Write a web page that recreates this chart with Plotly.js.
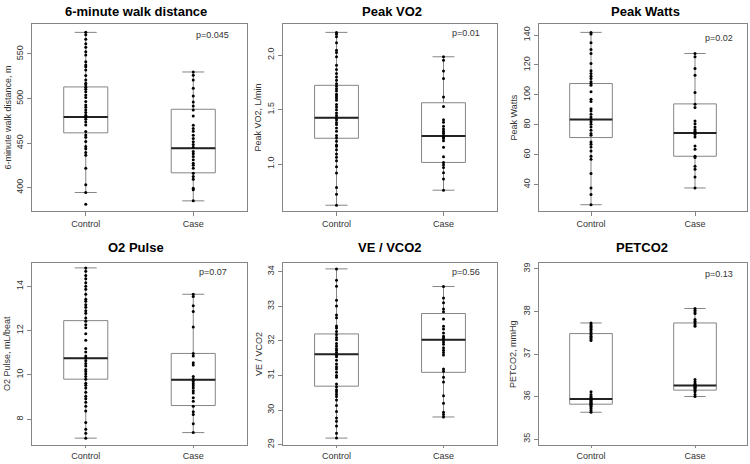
<!DOCTYPE html>
<html><head><meta charset="utf-8">
<script src="https://cdn.plot.ly/plotly-3.0.1.min.js"></script>
<style>html,body{margin:0;padding:0;background:#fff}#chart{width:750px;height:464px}</style>
</head><body><div id="chart"></div>
<script>
// ---------- DATA ----------
const groups = ['Control', 'Case'];
const panelTitles = ['6-minute walk distance', 'Peak VO2', 'Peak Watts', 'O2 Pulse', 'VE / VCO2', 'PETCO2'];
const yTitles = ['6-minute walk distance, m', 'Peak VO2, L/min', 'Peak Watts', 'O2 Pulse, mL/beat', 'VE / VCO2', 'PETCO2, mmHg'];
const pValues = ['p=0.045', 'p=0.01', 'p=0.02', 'p=0.07', 'p=0.56', 'p=0.13'];

// tick labels per panel
const walkTicks = [400, 450, 500, 550];
const vo2Ticks = [1.0, 1.5, 2.0];
const wattsTicks = [40, 60, 80, 100, 120, 140];
const pulseTicks = [8, 10, 12, 14];
const veTicks = [29, 30, 31, 32, 33, 34];
const petTicks = [35, 36, 37, 38, 39];

// box statistics: [lower whisker, Q1, median, Q3, upper whisker]
const walkCtrlBox = [394.4, 461.4, 479.3, 513.0, 574.3];
const walkCaseBox = [385.0, 416.5, 444.2, 487.9, 529.8];
const vo2CtrlBox = [0.622, 1.237, 1.425, 1.723, 2.209];
const vo2CaseBox = [0.760, 1.015, 1.258, 1.563, 1.985];
const wattsCtrlBox = [26.6, 71.5, 83.5, 107.6, 141.8];
const wattsCaseBox = [37.8, 59.0, 74.6, 94.0, 127.7];
const pulseCtrlBox = [7.15, 9.81, 10.75, 12.45, 14.83];
const pulseCaseBox = [7.40, 8.62, 9.78, 10.97, 13.64];
const veCtrlBox = [29.19, 30.69, 31.61, 32.20, 34.08];
const veCaseBox = [29.80, 31.09, 32.03, 32.79, 33.57];
const petCtrlBox = [35.63, 35.82, 35.94, 37.48, 37.73];
const petCaseBox = [36.00, 36.15, 36.26, 37.73, 38.07];

// individual observations
const walkCtrl = [574.3, 571.7, 566.5, 561.6, 557.5, 552.6, 548.9, 541.4, 537.7, 535.8, 532.0, 525.7, 520.8, 517.1, 515.2, 512.6, 510.4, 507.7, 504.0, 501.0, 496.5, 492.8, 490.2, 487.2, 484.2, 481.2, 479.0, 476.7, 473.7, 470.3, 462.9, 459.1, 456.5, 451.6, 446.0, 443.4, 439.3, 436.3, 421.7, 403.0, 394.4, 381.3];
const walkCase = [529.8, 526.1, 520.8, 511.5, 502.9, 496.1, 491.7, 487.2, 480.4, 470.0, 466.2, 463.2, 458.8, 455.0, 451.3, 448.3, 445.3, 440.4, 437.8, 434.8, 431.1, 427.3, 425.1, 421.7, 416.1, 412.3, 409.4, 399.3, 397.4, 385.0];

const vo2Ctrl = [2.209, 2.191, 2.169, 2.114, 2.046, 2.025, 1.985, 1.908, 1.868, 1.831, 1.800, 1.769, 1.738, 1.714, 1.692, 1.671, 1.640, 1.625, 1.606, 1.585, 1.548, 1.523, 1.498, 1.468, 1.446, 1.425, 1.406, 1.382, 1.363, 1.332, 1.302, 1.262, 1.240, 1.209, 1.175, 1.163, 1.132, 1.092, 1.062, 1.031, 0.975, 0.917, 0.785, 0.723, 0.622];
const vo2Case = [1.985, 1.954, 1.855, 1.785, 1.615, 1.529, 1.406, 1.385, 1.348, 1.323, 1.302, 1.283, 1.262, 1.246, 1.234, 1.215, 1.154, 1.068, 1.015, 0.994, 0.969, 0.920, 0.862, 0.760];

const wattsCtrl = [141.8, 140.7, 134.9, 130.4, 127.7, 121.0, 116.1, 114.3, 112.5, 111.0, 108.8, 107.6, 106.5, 102.1, 97.1, 95.6, 90.7, 89.3, 87.1, 85.3, 83.8, 82.0, 80.4, 78.6, 76.4, 74.2, 73.0, 68.6, 67.0, 65.2, 62.5, 59.0, 57.0, 47.4, 37.8, 33.5, 26.6];
const wattsCase = [127.7, 125.5, 117.7, 113.2, 101.6, 93.8, 91.6, 82.6, 80.8, 78.6, 76.8, 75.7, 74.6, 73.5, 71.9, 65.9, 63.7, 59.0, 58.1, 52.3, 50.3, 45.1, 37.8];

const pulseCtrl = [14.83, 14.68, 14.49, 14.34, 14.16, 14.00, 13.87, 13.64, 13.42, 13.32, 13.17, 13.05, 12.90, 12.78, 12.57, 12.42, 12.26, 12.13, 11.86, 11.56, 11.19, 11.04, 10.86, 10.75, 10.64, 10.52, 10.40, 10.25, 10.15, 10.04, 9.93, 9.81, 9.63, 9.53, 9.41, 9.22, 9.04, 8.93, 8.77, 8.59, 8.37, 7.85, 7.55, 7.37, 7.15];
const pulseCase = [13.64, 13.54, 13.12, 12.86, 12.16, 10.97, 10.86, 10.55, 10.45, 9.93, 9.81, 9.71, 9.60, 9.51, 9.41, 9.29, 9.19, 8.97, 8.81, 8.59, 8.34, 8.22, 7.80, 7.40];

const veCtrl = [34.08, 33.75, 33.58, 33.17, 33.01, 32.75, 32.67, 32.43, 32.37, 32.27, 32.18, 32.10, 32.03, 31.92, 31.85, 31.78, 31.73, 31.66, 31.59, 31.54, 31.44, 31.33, 31.25, 31.19, 31.09, 31.00, 30.95, 30.75, 30.67, 30.59, 30.53, 30.46, 30.39, 30.29, 30.13, 29.96, 29.77, 29.68, 29.54, 29.33, 29.19];
const veCase = [33.57, 33.24, 33.10, 32.92, 32.84, 32.63, 32.42, 32.34, 32.23, 32.13, 32.08, 32.04, 31.97, 31.90, 31.80, 31.73, 31.66, 31.59, 31.19, 31.12, 30.95, 30.81, 30.41, 30.20, 29.94, 29.87, 29.80];

const petCtrl = [37.73, 37.69, 37.65, 37.62, 37.58, 37.54, 37.50, 37.46, 37.42, 37.38, 37.35, 37.32, 36.11, 36.05, 36.00, 35.97, 35.95, 35.93, 35.92, 35.90, 35.88, 35.86, 35.84, 35.82, 35.80, 35.78, 35.76, 35.72, 35.67, 35.63];
const petCase = [38.07, 38.03, 37.99, 37.95, 37.81, 37.77, 37.73, 37.69, 37.65, 36.40, 36.35, 36.30, 36.28, 36.26, 36.24, 36.22, 36.20, 36.18, 36.15, 36.11, 36.05, 36.00];

// ---------- PANELS ----------
const panels = [
  {ctrl: walkCtrl, cse: walkCase, cb: walkCtrlBox, kb: walkCaseBox, ticks: walkTicks, range: [373.6, 583.7], fmt: ''},
  {ctrl: vo2Ctrl, cse: vo2Case, cb: vo2CtrlBox, kb: vo2CaseBox, ticks: vo2Ticks, range: [0.569, 2.286], fmt: '.1f'},
  {ctrl: wattsCtrl, cse: wattsCase, cb: wattsCtrlBox, kb: wattsCaseBox, ticks: wattsTicks, range: [22.4, 147.4], fmt: ''},
  {ctrl: pulseCtrl, cse: pulseCase, cb: pulseCtrlBox, kb: pulseCaseBox, ticks: pulseTicks, range: [6.84, 15.05], fmt: ''},
  {ctrl: veCtrl, cse: veCase, cb: veCtrlBox, kb: veCaseBox, ticks: veTicks, range: [28.99, 34.25], fmt: ''},
  {ctrl: petCtrl, cse: petCase, cb: petCtrlBox, kb: petCaseBox, ticks: petTicks, range: [34.86, 39.14], fmt: ''}
];

const W = 750, H = 464;
const colPx = [[32, 247], [283, 497], [539, 747]];
const rowPx = [[24, 211], [263, 445]];
const titlePos = [[136, 12], [392, 12], [645, 12], [136, 248], [390, 248], [642, 248]];
const pPos = [[213, 35], [466, 33], [719, 38], [213, 272], [466, 272], [719, 274]];
const yTitleX = [7, 257, 513, 7, 259, 513];

const GRAY = '#858585';
const TXT = '#333333';
const FONT = 'Arial, "Liberation Sans", sans-serif';

const traces = [];
const layout = {
  width: W, height: H,
  margin: {l: 0, r: 0, t: 0, b: 0},
  paper_bgcolor: '#ffffff', plot_bgcolor: '#ffffff',
  showlegend: false,
  font: {family: FONT, size: 9, color: TXT},
  annotations: []
};

panels.forEach((p, i) => {
  const n = i + 1;
  const xa = n === 1 ? 'x' : 'x' + n;
  const ya = n === 1 ? 'y' : 'y' + n;
  const col = colPx[i % 3], row = rowPx[Math.floor(i / 3)];
  const xs = [1, 2];

  // box outline + whiskers
  traces.push({
    type: 'box', xaxis: xa, yaxis: ya, x: xs,
    lowerfence: [p.cb[0], p.kb[0]], q1: [p.cb[1], p.kb[1]], median: [p.cb[2], p.kb[2]],
    q3: [p.cb[3], p.kb[3]], upperfence: [p.cb[4], p.kb[4]],
    width: 0.41, whiskerwidth: 0.5, boxpoints: false,
    line: {color: GRAY, width: 1}, fillcolor: 'rgba(0,0,0,0)', hoverinfo: 'skip'
  });
  // thick median line (degenerate box)
  const med = [p.cb[2], p.kb[2]];
  traces.push({
    type: 'box', xaxis: xa, yaxis: ya, x: xs,
    lowerfence: med, q1: med, median: med, q3: med, upperfence: med,
    width: 0.41, whiskerwidth: 0, boxpoints: false,
    line: {color: '#222222', width: 2}, fillcolor: 'rgba(0,0,0,0)', hoverinfo: 'skip'
  });
  // individual points
  traces.push({
    type: 'scatter', mode: 'markers', xaxis: xa, yaxis: ya,
    x: p.ctrl.map(() => 1).concat(p.cse.map(() => 2)),
    y: p.ctrl.concat(p.cse),
    marker: {color: '#000000', size: 3}, hoverinfo: 'skip'
  });

  const axName = n === 1 ? '' : String(n);
  layout['xaxis' + axName] = {
    domain: [col[0] / W, col[1] / W], anchor: ya, range: [0.5, 2.5],
    tickvals: xs, ticktext: groups, ticks: 'outside', ticklen: i < 3 ? 4 : 2, tickcolor: GRAY,
    showline: true, mirror: true, linecolor: GRAY, linewidth: 1,
    showgrid: false, zeroline: false, fixedrange: true,
    tickfont: {size: 9, color: TXT, family: FONT}
  };
  layout['yaxis' + axName] = {
    domain: [1 - row[1] / H, 1 - row[0] / H], anchor: xa, range: p.range,
    tickvals: p.ticks, tickformat: p.fmt, ticks: 'outside', ticklen: 4, tickcolor: GRAY,
    tickangle: -90, showline: true, mirror: true, linecolor: GRAY, linewidth: 1,
    showgrid: false, zeroline: false, fixedrange: true,
    tickfont: {size: 9, color: TXT, family: FONT}
  };

  layout.annotations.push({
    xref: 'paper', yref: 'paper', x: titlePos[i][0] / W, y: 1 - titlePos[i][1] / H,
    text: '<b>' + panelTitles[i] + '</b>', showarrow: false, xanchor: 'center', yanchor: 'middle',
    font: {size: 13, color: '#000', family: FONT}
  });
  layout.annotations.push({
    xref: 'paper', yref: 'paper', x: pPos[i][0] / W, y: 1 - pPos[i][1] / H,
    text: pValues[i], showarrow: false, xanchor: 'center', yanchor: 'middle',
    font: {size: 9, color: TXT, family: FONT}
  });
  layout.annotations.push({
    xref: 'paper', yref: 'paper', x: yTitleX[i] / W, y: 1 - (row[0] + row[1]) / 2 / H,
    text: yTitles[i], showarrow: false, textangle: -90, xanchor: 'center', yanchor: 'middle',
    font: {size: 9, color: TXT, family: FONT}
  });
});

Plotly.newPlot('chart', traces, layout, {staticPlot: true, displayModeBar: false});
</script>
</body></html>
